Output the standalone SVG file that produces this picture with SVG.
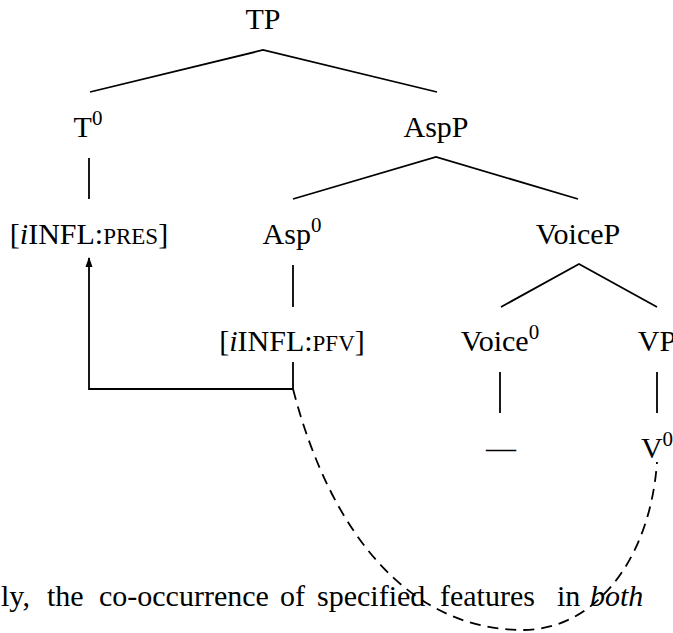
<svg xmlns="http://www.w3.org/2000/svg" width="673" height="633" viewBox="0 0 673 633">
<style>
  text { font-family: "Liberation Serif", "Times New Roman", serif; font-size: 30px; fill: #000; }
  .lab { text-anchor: middle; }
  .sup { font-size: 21px; }
  .sc { font-size: 23px; }
  .it { font-family: "Liberation Serif", serif; font-style: oblique; }
  .edge { stroke: #000; stroke-width: 1.8; fill: none; stroke-linecap: butt; }
  .dash { stroke: #000; stroke-width: 1.8; fill: none; stroke-dasharray: 11 7; }
</style>
<defs>
  <marker id="arr" viewBox="0 0 10 10" refX="9" refY="5" markerWidth="10" markerHeight="10" markerUnits="userSpaceOnUse" orient="auto">
    <path d="M0,1.5 L10,5 L0,8.5 Z" fill="#000"/>
  </marker>
</defs>
<rect x="0" y="0" width="673" height="633" fill="#fff"/>
<g id="connectors">
  <path class="edge" d="M90,92 L263,50 L437,92"/>
  <path class="edge" d="M89,158 V199"/>
  <path class="edge" d="M293,199 L436,157 L578,199"/>
  <path class="edge" d="M293,265 V307"/>
  <path class="edge" d="M501,307 L579,264 L657,307"/>
  <path class="edge" d="M500,372 V413"/>
  <path class="edge" d="M657,372 V413"/>
  <path class="edge" d="M293,362 V389 H89 V258" marker-end="url(#arr)"/>
  <path class="dash" d="M293,389 C332,539 413,630 523,630 C593,630 650,562 657,462"/>
</g>
<g id="node-TP"><text class="lab" x="263" y="29">TP</text></g>
<g id="node-T0"><text class="lab" x="88" y="137">T<tspan class="sup" dy="-12">0</tspan></text></g>
<g id="node-AspP"><text class="lab" x="436" y="137">AspP</text></g>
<g id="node-PRES"><text class="lab" x="89" y="244">[<tspan class="it">i</tspan>INFL:<tspan class="sc">PRES</tspan>]</text></g>
<g id="node-Asp0"><text class="lab" x="292" y="244">Asp<tspan class="sup" dy="-12">0</tspan></text></g>
<g id="node-VoiceP"><text class="lab" x="578" y="244">VoiceP</text></g>
<g id="node-PFV"><text class="lab" x="292" y="351">[<tspan class="it">i</tspan>INFL:<tspan class="sc">PFV</tspan>]</text></g>
<g id="node-Voice0"><text class="lab" x="500" y="351">Voice<tspan class="sup" dy="-12">0</tspan></text></g>
<g id="node-VP"><text class="lab" x="657" y="351">VP</text></g>
<g id="node-dash"><text class="lab" x="501" y="458">—</text></g>
<g id="node-V0"><text class="lab" x="657" y="458">V<tspan class="sup" dy="-12">0</tspan></text></g>
<g id="body-text">
  <text y="606"><tspan x="1">ly,</tspan><tspan x="47">the</tspan><tspan x="99">co-occurrence</tspan><tspan x="280">of</tspan><tspan x="317">specified</tspan><tspan x="440">features</tspan><tspan x="557">in</tspan><tspan x="590" class="it">both</tspan></text>
</g>
</svg>
